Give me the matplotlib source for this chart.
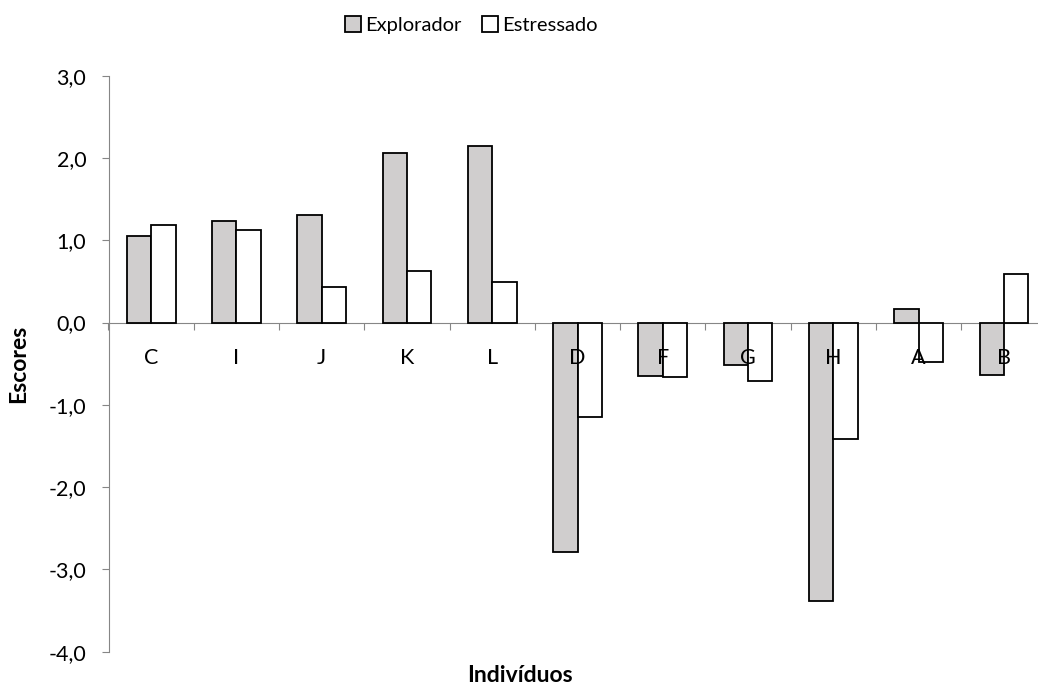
import numpy as np
import matplotlib
matplotlib.use("Agg")
import matplotlib.pyplot as plt
from matplotlib.ticker import FixedLocator, FuncFormatter

plt.rcParams['font.family'] = ['Lato', 'DejaVu Sans']

individuos = ["C", "I", "J", "K", "L", "D", "F", "G", "H", "A", "B"]
explorador = [1.05, 1.23, 1.31, 2.06, 2.15, -2.79, -0.65, -0.52, -3.38, 0.17, -0.64]
estressado = [1.18, 1.12, 0.43, 0.63, 0.49, -1.15, -0.66, -0.71, -1.42, -0.48, 0.59]

W, H = 1038, 684
fig = plt.figure(figsize=(W / 100, H / 100), dpi=100)
# axes run a little past the right edge of the figure
ax = fig.add_axes([108.5 / W, (H - 651.7) / H, 938 / W, 576 / H])
ax.set_axisbelow(False)  # category labels sit on top of the bars

x = np.arange(len(individuos))
bw = 1 / 3.5
ax.bar(x - bw / 2, explorador, bw, color="#d0cece", edgecolor="black", linewidth=1.3, label="Explorador", zorder=2)
ax.bar(x + bw / 2, estressado, bw, color="white", edgecolor="black", linewidth=1.3, label="Estressado", zorder=2)

ax.set_xlim(-0.5, len(individuos) - 0.5)
ax.set_ylim(-4, 3)
ax.set_yticks(np.arange(-4, 3.1, 1))
ax.yaxis.set_major_formatter(FuncFormatter(lambda v, p: f"{v:.1f}".replace(".", ",")))

gray = "#868686"
for s in ["top", "right"]:
    ax.spines[s].set_visible(False)
ax.spines["left"].set_color(gray)
ax.spines["bottom"].set_color(gray)
ax.spines["bottom"].set_position(("data", 0))
ax.spines["bottom"].set_zorder(1)

# tick marks between categories, labels at the category centres
ax.xaxis.set_major_locator(FixedLocator(np.arange(-0.5, len(individuos), 1)))
ax.xaxis.set_major_formatter(FuncFormatter(lambda v, p: ""))
ax.xaxis.set_minor_locator(FixedLocator(x))
ax.set_xticklabels(individuos, minor=True)
ax.tick_params(axis="x", which="major", direction="out", length=5, color=gray)
ax.tick_params(axis="x", which="minor", length=0, pad=18, labelsize=15.5)
ax.tick_params(axis="y", direction="out", length=5, color=gray, pad=11, labelsize=15.5)

ax.set_ylabel("Escores", fontsize=16.5, fontweight="bold", labelpad=14)
fig.text(520 / W, 1 - 675 / H, "Indivíduos", fontsize=16.5, fontweight="bold", ha="center", va="center")

leg = fig.legend(loc="center", bbox_to_anchor=(471 / W, 1 - 25 / H), ncol=2, frameon=False,
                 fontsize=14.5, handlelength=0.8, handleheight=0.8, handletextpad=0.2, columnspacing=1.0)

fig.savefig("out.png", dpi=100)
